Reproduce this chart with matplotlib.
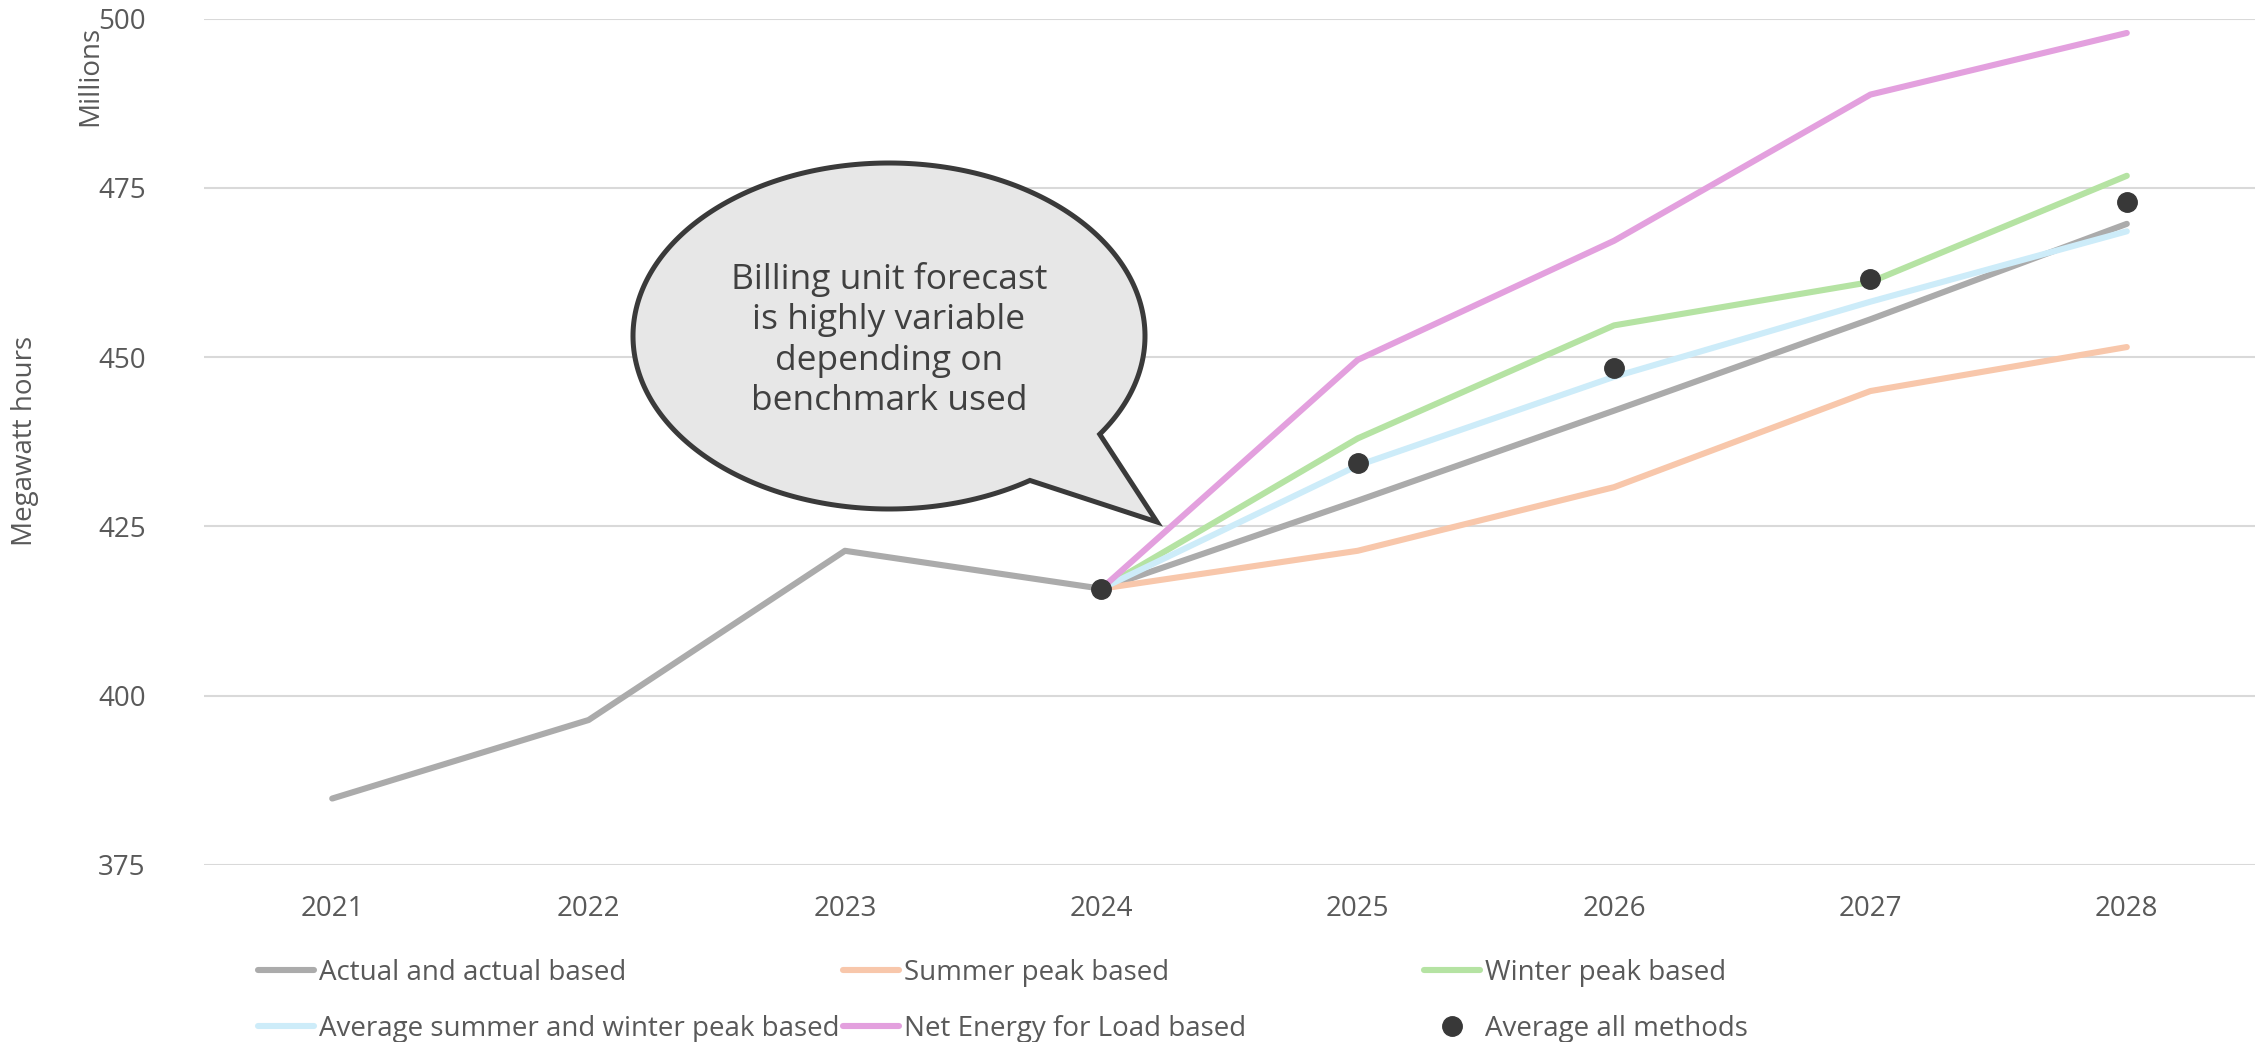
import numpy as np
import matplotlib.pyplot as plt
from matplotlib.patches import Polygon

# Data (millions of MWh)
years = ['2021', '2022', '2023', '2024', '2025', '2026', '2027', '2028']
actual = [384.8, 396.4, 421.4, 415.8, 428.8, 442.1, 455.6, 469.7]
summer = [None, None, None, 415.8, 421.4, 430.8, 445.0, 451.5]
winter = [None, None, None, 415.8, 438.0, 454.7, 461.1, 476.8]
avg_sw = [None, None, None, 415.8, 434.0, 447.1, 458.2, 468.6]
nel = [None, None, None, 415.8, 449.6, 467.2, 488.8, 497.9]
avg_all = [None, None, None, 415.8, 434.4, 448.4, 461.5, 472.9]

labels = ['Actual and actual based', 'Summer peak based', 'Winter peak based',
          'Average summer and winter peak based', 'Net Energy for Load based',
          'Average all methods']
colors = ['#ABABAB', '#F8C7AB', '#B5E3A3', '#CDECF9', '#E3A0DE']
callout = 'Billing unit forecast\nis highly variable\ndepending on\nbenchmark used'

W, H = 2267, 1042
plt.rcParams['font.family'] = ['Open Sans', 'DejaVu Sans']
txt = '#595959'
fs = 20

fig = plt.figure(figsize=(W / 100, H / 100), dpi=100)
ax = fig.add_axes([0.090, 0.170, 0.9047, 0.812])


def to_arr(vals):
    return np.array([np.nan if v is None else v for v in vals], dtype=float)


x = np.arange(len(years))
series = [actual, summer, winter, avg_sw, nel]
handles = []
for vals, c, lab in zip(series, colors, labels):
    ln, = ax.plot(x, to_arr(vals), color=c, lw=4.4, solid_capstyle='round',
                  label=lab, zorder=3)
    handles.append(ln)
dots, = ax.plot(x, to_arr(avg_all), 'o', color='#383838', ms=14,
                label=labels[5], zorder=5)
handles.append(dots)

ax.set_xlim(-0.5, len(years) - 0.5)
ax.set_ylim(375, 500)
ax.set_yticks([375, 400, 425, 450, 475, 500])
ax.set_xticks(x)
ax.set_xticklabels(years)
ax.tick_params(length=0, labelsize=fs, labelcolor=txt)
ax.tick_params(axis='y', pad=42)
ax.tick_params(axis='x', pad=22)
ax.grid(axis='y', color='#D9D9D9', lw=1.5)
ax.set_axisbelow(True)
for s in ax.spines.values():
    s.set_visible(False)

fig.text(90 / W, 1 - 76 / H, 'Millions', rotation=90, ha='center', va='center',
         fontsize=fs, color=txt)
fig.text(25 / W, 1 - 441 / H, 'Megawatt hours', rotation=90, ha='center',
         va='center', fontsize=fs, color=txt)

# speech bubble (pixel coordinates, y measured from top)
cx, cy, a, b = 889, 336, 256, 173
t0, t1 = np.deg2rad(-34.6), np.deg2rad(303.4)
t = np.linspace(t0, t1, 300)
px = cx + a * np.cos(t)
py = cy - b * np.sin(t)
px = np.append(px, 1157)
py = np.append(py, 522)
pts = np.column_stack([px / W, 1 - py / H])
fig.patches.append(Polygon(pts, closed=True, transform=fig.transFigure,
                           facecolor='#E7E7E7', edgecolor='#3A3A3A', lw=3.6,
                           zorder=10))
fig.text(889 / W, 1 - 340 / H, callout, ha='center', va='center', fontsize=25.5,
         color='#404040', linespacing=1.25, zorder=11)

# legend: three columns, two rows
cols = [(258, [0, 3]), (843, [1, 4]), (1424, [2, 5])]
for xpos, idx in cols:
    fig.legend([handles[i] for i in idx], [labels[i] for i in idx],
               loc='center left', bbox_to_anchor=(xpos / W, 1 - 1001 / H),
               frameon=False, fontsize=fs, labelcolor=txt, handlelength=2.0,
               handletextpad=0.2, borderpad=0, borderaxespad=0,
               labelspacing=1.0)

fig.savefig('out.png', dpi=100)
